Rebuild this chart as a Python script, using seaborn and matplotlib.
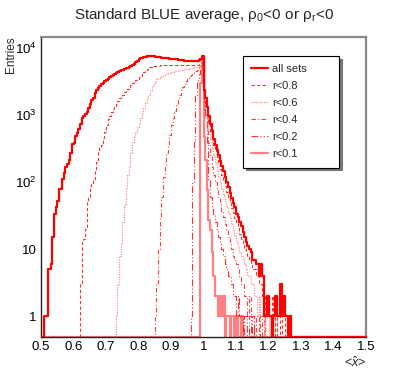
import numpy as np
import pandas as pd
import matplotlib
matplotlib.use("Agg")
import matplotlib.pyplot as plt
import seaborn as sns
from matplotlib.ticker import FixedLocator, FixedFormatter, MultipleLocator, NullFormatter

# ---------------- data (bin width 0.005, range 0.5 - 1.5) ----------------
BIN_LO, BIN_HI, BIN_W = 0.5, 1.5, 0.005

ALL_START = 0.510
ALL_COUNTS = [1, 1, 5, 5, 6, 15, 33, 43, 52, 78,
              80, 110, 138, 170, 185, 214, 270, 363, 375, 484,
              531, 609, 720, 905, 950, 1016, 1090, 1275, 1430, 1660,
              1800, 2090, 2300, 2500, 2700, 2850, 3000, 3150, 3300, 3450,
              3600, 3800, 3950, 4100, 4250, 4400, 4500, 4600, 4700, 4800,
              4900, 5000, 5100, 5250, 5450, 5700, 6050, 6400, 6700, 6950,
              7100, 7250, 7350, 7400, 7450, 7450, 7450, 7400, 7350, 7300,
              7250, 7200, 7100, 7050, 7000, 6950, 6900, 6850, 6800, 6750,
              6700, 6650, 6600, 6550, 6500, 6450, 6400, 6350, 6300, 6250,
              6250, 6250, 6300, 6300, 6350, 6450, 6700, 7400,
              2300, 1750, 1300, 950, 720, 580, 440, 360, 300, 250,
              205, 175, 145, 120, 100, 85, 68, 58, 48, 42,
              34, 30, 25, 22, 18, 15, 13, 11, 10, 9,
              7, 7, 6, 6, 4, 6, 4, 1, 1, 2,
              1, 1, 0, 1, 2, 1, 1, 3, 1, 2,
              1, 1, 0, 1]

R08_START = 0.620
R08_COUNTS = [3, 13, 14, 20, 52, 60, 78, 95, 110, 150,
              200, 300, 330, 360, 450, 560, 700, 880, 950, 1100,
              1200, 1350, 1450, 1600, 1750, 1900, 2000, 2150, 2300, 2450,
              2550, 2750, 2950, 3100, 3250, 3400, 3600, 3800, 4050, 4300,
              4600, 4850, 5050, 5200, 5300, 5350, 5400, 5400, 5400,
              5420, 5430, 5440, 5440, 5450, 5450, 5450, 5450, 5450, 5450,
              5450, 5450, 5450, 5450, 5450, 5460, 5470, 5480, 5490, 5500,
              5510, 5520, 5540, 5560, 5600, 5750, 6700,
              2100, 1500, 1100, 780, 580, 450, 350, 290, 235, 190,
              155, 128, 105, 86, 72, 60, 50, 41, 35, 29,
              25, 21, 17, 14, 12, 10, 9, 8, 7, 6,
              5, 5, 4, 4, 3, 3, 2, 2, 1, 2,
              1, 1, 2, 1, 0, 1, 1, 0, 1, 1]

R06_START = 0.730
R06_COUNTS = [1, 3, 8, 12, 25, 45, 80, 125, 170, 270,
              400, 480, 560, 650, 760, 900, 1050, 1250, 1500, 1750,
              2000, 2300, 2600, 2900, 3150, 3350, 3500, 3650, 3780, 3880,
              3950, 4050, 4150, 4250, 4300, 4380, 4440, 4500, 4550, 4600,
              4650, 4700, 4750, 4800, 4850, 4900, 4950, 5000, 5050, 5100,
              5200, 5350, 5600, 6300,
              1900, 1300, 900, 620, 430, 320, 250, 190, 150, 120,
              96, 78, 64, 52, 43, 35, 29, 24, 20, 16,
              13, 11, 9, 8, 7, 6, 5, 4, 4, 3,
              3, 2, 2, 1, 2, 1, 1, 0, 1, 1,
              0, 1, 1, 0, 1]

R04_START = 0.850
R04_COUNTS = [1, 3, 10, 30, 60, 120, 180, 270, 360, 500,
              700, 900, 1150, 1400, 1700, 2000, 2300, 2600, 2900, 3200,
              3500, 3750, 3950, 4150, 4300, 4500, 4700, 4950, 5300, 6000,
              1600, 1000, 620, 380, 250, 170, 125, 100, 78, 60,
              47, 37, 30, 24, 19, 15, 12, 10, 8, 7,
              6, 5, 4, 3, 3, 2, 2, 1, 2, 1,
              1, 0, 1, 1, 0, 1, 0, 1]

R02_START = 0.960
R02_COUNTS = [1, 100, 400, 2000, 3300, 4000, 4700, 5800,
              1200, 900, 350, 110, 60, 40, 33, 25, 19, 15,
              12, 10, 8, 6, 5, 4, 4, 3, 2, 2,
              1, 2, 1, 1, 0, 1, 1, 0, 1, 0, 1]

R01_START = 0.990
R01_COUNTS = [3000, 6500,
              470, 214, 76, 27, 19, 9, 4, 2, 2, 1,
              2, 1, 2, 0, 1, 1, 0, 1, 1, 0,
              1, 0, 0, 1]

SERIES = ["all sets", "r<0.8", "r<0.6", "r<0.4", "r<0.2", "r<0.1"]
STARTS = [ALL_START, R08_START, R06_START, R04_START, R02_START, R01_START]
COUNTS = [ALL_COUNTS, R08_COUNTS, R06_COUNTS, R04_COUNTS, R02_COUNTS, R01_COUNTS]

TITLE = "Standard BLUE average, ρ$_{0}$<0 or ρ$_{\\mathrm{r}}$<0"
XLABEL = r"<$\hat{x}$>"
YLABEL = "Entries"
XTICKS = [0.5, 0.6, 0.7, 0.8, 0.9, 1.0, 1.1, 1.2, 1.3, 1.4, 1.5]
XTICKLABELS = ["0.5", "0.6", "0.7", "0.8", "0.9", "1", "1.1", "1.2", "1.3", "1.4", "1.5"]
YTICKS = [1, 10, 100, 1000, 10000]
YTICKLABELS = ["1", "10", "$10^{2}$", "$10^{3}$", "$10^{4}$"]

# ---------------- style ----------------
STYLES = {
    "all sets": dict(color="#ff0000", lw=1.6, ls="-"),
    "r<0.8": dict(color="#ff3030", lw=0.8, ls=(0, (3, 2))),
    "r<0.6": dict(color="#ff9090", lw=0.9, ls=(0, (1, 1))),
    "r<0.4": dict(color="#ff4040", lw=0.8, ls=(0, (4, 2, 1, 2))),
    "r<0.2": dict(color="#ff3030", lw=0.8, ls=(0, (6, 2, 1, 2, 1, 2))),
    "r<0.1": dict(color="#ff8080", lw=1.6, ls="-"),
}
YMIN, YMAX = 0.5, 1.45e4

sns.set_theme(style="white")
plt.rcParams["font.family"] = ["Liberation Sans", "DejaVu Sans"]
plt.rcParams["mathtext.fontset"] = "custom"
plt.rcParams["mathtext.rm"] = "Liberation Sans"
plt.rcParams["mathtext.it"] = "Liberation Sans:italic"
plt.rcParams["mathtext.bf"] = "Liberation Sans:bold"

fig = plt.figure(figsize=(4.07, 3.74), dpi=100)
ax = fig.add_axes([41 / 407, 37.3 / 374, 325 / 407, 300 / 374])

nb = int(round((BIN_HI - BIN_LO) / BIN_W))
edges = BIN_LO + BIN_W * np.arange(nb + 1)

frames = []
for name, start, cnt in zip(SERIES, STARTS, COUNTS):
    full = np.zeros(nb)
    i0 = int(round((start - BIN_LO) / BIN_W))
    full[i0:i0 + len(cnt)] = cnt
    # empty bins drawn at the bottom of the frame as ROOT does on log scale
    shown = np.where(full > 0, full, YMIN)
    yy = np.append(shown, shown[-1])
    frames.append(pd.DataFrame({"x": edges, "y": yy, "series": name}))
df = pd.concat(frames, ignore_index=True)

# draw so that "all sets" is on top
for name in SERIES[::-1]:
    st = STYLES[name]
    sub = df[df["series"] == name]
    sns.lineplot(data=sub, x="x", y="y", ax=ax, estimator=None, sort=False,
                 drawstyle="steps-post", color=st["color"], linewidth=st["lw"],
                 linestyle=st["ls"], label=name, legend=False, zorder=3 if name == "all sets" else 2)

ax.set_yscale("log")
ax.set_xlim(BIN_LO, BIN_HI)
ax.set_ylim(YMIN, YMAX)

ax.xaxis.set_major_locator(FixedLocator(XTICKS))
ax.xaxis.set_major_formatter(FixedFormatter(XTICKLABELS))
ax.xaxis.set_minor_locator(MultipleLocator(0.02))
ax.yaxis.set_major_locator(FixedLocator(YTICKS))
ax.yaxis.set_major_formatter(FixedFormatter(YTICKLABELS))
minors = [m * 10 ** e for e in range(-1, 5) for m in range(2, 10)]
ax.yaxis.set_minor_locator(FixedLocator([v for v in minors if YMIN < v < YMAX]))
ax.yaxis.set_minor_formatter(NullFormatter())

ax.tick_params(axis="both", which="both", direction="in", colors="#333333",
               labelcolor="black", labelsize=9.5)
ax.tick_params(axis="x", which="major", length=7, width=0.8, pad=3)
ax.tick_params(axis="x", which="minor", length=3.5, width=0.8)
ax.tick_params(axis="y", which="major", length=9, width=0.8, pad=3)
ax.tick_params(axis="y", which="minor", length=4.5, width=0.8)
ax.tick_params(top=False, right=False, which="both")

for s in ["left", "bottom"]:
    ax.spines[s].set_color("#222222")
    ax.spines[s].set_linewidth(1.0)
for s in ["top", "right"]:
    ax.spines[s].set_color("#8a8a8a")
    ax.spines[s].set_linewidth(1.6)

ax.set_xlabel(XLABEL, loc="right", fontsize=9, labelpad=2)
ax.set_ylabel(YLABEL, loc="top", fontsize=8.5)
ax.yaxis.set_label_coords(-0.074, 1.0)
fig.suptitle(TITLE, x=0.5, y=0.985, fontsize=11, va="top")

handles, labels = ax.get_legend_handles_labels()
order = [labels.index(n) for n in SERIES]
leg = ax.legend([handles[i] for i in order], [labels[i] for i in order],
                loc="upper left", bbox_to_anchor=(0.6215, 0.562, 0.2955, 0.3737),
                mode="expand",
                fontsize=8, frameon=True, fancybox=False,
                shadow={"color": "#777777", "alpha": 1.0},
                edgecolor="black", framealpha=1.0, borderpad=0.75,
                labelspacing=0.63, handlelength=1.5, handletextpad=0.4,
                borderaxespad=0.0)
leg.get_frame().set_linewidth(0.8)

fig.savefig("out.png", dpi=100)
